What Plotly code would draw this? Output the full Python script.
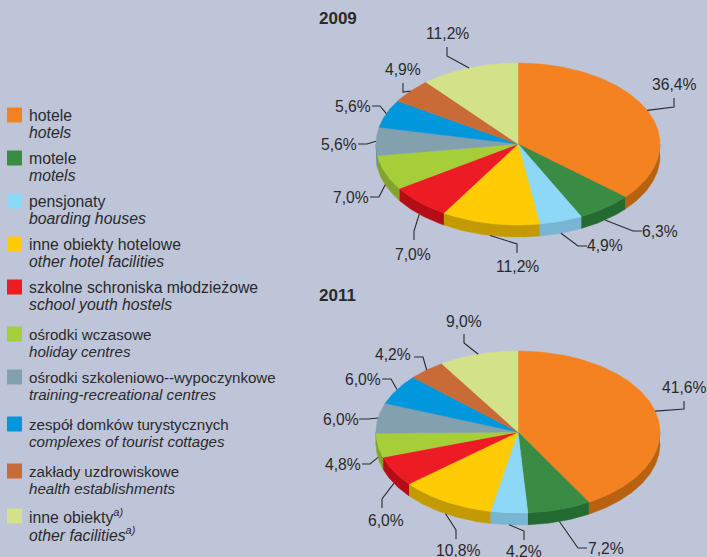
import math
import plotly.graph_objects as go

# ---------- data ----------
categories_pl = ["hotele", "motele", "pensjonaty", "inne obiekty hotelowe", "szkolne schroniska młodzieżowe",
                 "ośrodki wczasowe", "ośrodki szkoleniowo--wypoczynkowe", "zespół domków turystycznych",
                 "zakłady uzdrowiskowe", "inne obiekty<i><sup>a)</sup></i>"]
categories_en = ["hotels", "motels", "boarding houses", "other hotel facilities", "school youth hostels",
                 "holiday centres", "training-recreational centres", "complexes of tourist cottages",
                 "health establishments", "other facilities<sup>a)</sup>"]
values_2009 = [36.4, 6.3, 4.9, 11.2, 7.0, 7.0, 5.6, 5.6, 4.9, 11.2]
values_2011 = [41.6, 7.2, 4.2, 10.8, 6.0, 4.8, 6.0, 6.0, 4.2, 9.0]

# ---------- styles / layout ----------
BG = "#BEC5D8"
INK = "#2A2A2C"
TOP = ["#F58220", "#3A8B43", "#8DD7F7", "#FFCB05", "#ED1C24", "#A6CE39", "#82A0AE", "#0097DC", "#C96B36", "#D3E288"]
SIDE = ["#B8620F", "#236B30", "#77B5D2", "#C49A02", "#B50D15", "#84A32A", "#5F7F95", "#0A6FA8", "#96502A", "#A0AC68"]
FONT = "Liberation Sans"

LEGEND_Y = [115, 158, 201, 244, 287, 334, 377, 424, 471, 516]
LEGEND_SIZE = [15.8, 15.8, 15.8, 15.8, 15.8, 15.1, 15.1, 15.1, 15.1, 15.8]
ROW_GAP = 17.7

RX, RY, DEPTH = 142, 81, 12
PIES = [
    dict(year="2009", values=values_2009, cx=518, cy=144, title=(338, 18),
         labels=[(674, 84), (660, 231), (605, 245), (517, 266), (413, 254),
                 (351, 197), (339, 144), (353, 106), (403, 69), (447, 33)],
         elbows=[[(674, 107), (674, 98)], [(633, 231), (642, 231)], [(578, 246), (587, 246)],
                 [(517, 244), (517, 253)], [(414, 231), (414, 240)], [(379, 197), (370, 197)],
                 [(367, 144), (358, 144)], [(380, 106), (372, 106)], [(403, 92), (403, 83)],
                 [(447, 56), (447, 47)]]),
    dict(year="2011", values=values_2011, cx=518, cy=432, title=(337, 295),
         labels=[(684, 387), (606, 548), (524, 551), (458, 550), (386, 520),
                 (343, 464), (341, 419), (363, 379), (393, 354), (464, 321)],
         elbows=[[(684, 409), (684, 401)], [(578, 548), (587, 548)], [(524, 531), (524, 540)],
                 [(456, 530), (456, 539)], [(382, 499), (382, 508)], [(370, 464), (362, 464)],
                 [(368, 419), (359, 419)], [(391, 379), (382, 379)], [(423, 357), (414, 357)],
                 [(464, 343), (464, 334)]]),
]


def rim(cx, cy, deg, drop=0):
    t = math.radians(deg)
    return cx + RX * math.sin(t), cy - RY * math.cos(t) + drop


def arc(cx, cy, a, b, drop=0):
    n = max(2, int(abs(b - a)) + 2)
    return [rim(cx, cy, a + (b - a) * i / (n - 1), drop) for i in range(n)]


fig = go.Figure()


def poly(pts, color):
    fig.add_trace(go.Scatter(x=[p[0] for p in pts], y=[p[1] for p in pts], mode="lines", fill="toself",
                             fillcolor=color, line=dict(color=color, width=0.5), hoverinfo="skip", showlegend=False))


annotations = []


def text(x, y, s, size=15, anchor="center"):
    annotations.append(dict(x=x, y=y, text=s, xref="x", yref="y", showarrow=False, xanchor=anchor, yanchor="middle",
                            font=dict(family=FONT, size=size, color=INK)))


for pie in PIES:
    vals, cx, cy = pie["values"], pie["cx"], pie["cy"]
    total = sum(vals)
    angle, spans = 0.0, []
    for v in vals:
        spans.append((angle, angle + v / total * 360))
        angle += v / total * 360
    # side wall (front half only), then top face
    for i, (a, b) in enumerate(spans):
        lo, hi = max(a, 90), min(b, 270)
        if hi > lo:
            upper = arc(cx, cy, lo, hi)
            lower = arc(cx, cy, hi, lo, DEPTH)
            poly(upper + lower, SIDE[i])
    for i, (a, b) in enumerate(spans):
        poly([(cx, cy)] + arc(cx, cy, a, b) + [(cx, cy)], TOP[i])
    # leaders and value labels
    for i, (a, b) in enumerate(spans):
        mid = (a + b) / 2
        start = rim(cx, cy, mid, DEPTH if 90 < mid < 270 else 0)
        pts = [start] + pie["elbows"][i]
        fig.add_trace(go.Scatter(x=[p[0] for p in pts], y=[p[1] for p in pts], mode="lines",
                                 line=dict(color=INK, width=1.1), hoverinfo="skip", showlegend=False))
        text(*pie["labels"][i], f"{vals[i]:.1f}%".replace(".", ","), 15.7)
    text(*pie["title"], f"<b>{pie['year']}</b>", 17)

# legend
fig.add_trace(go.Scatter(x=[14.5] * len(TOP), y=LEGEND_Y, mode="markers",
                         marker=dict(symbol="square", size=15, color=TOP, line=dict(width=0)),
                         hoverinfo="skip", showlegend=False))
for y, size, pl, en in zip(LEGEND_Y, LEGEND_SIZE, categories_pl, categories_en):
    text(27, y, pl, size, "left")
    text(27, y + ROW_GAP, f"<i>{en}</i>", size, "left")

fig.update_layout(width=707, height=557, margin=dict(l=0, r=0, t=0, b=0), paper_bgcolor=BG, plot_bgcolor=BG,
                  showlegend=False, annotations=annotations,
                  xaxis=dict(range=[0, 707], visible=False, fixedrange=True),
                  yaxis=dict(range=[557, 0], visible=False, fixedrange=True))
fig.write_html("out.html", config=dict(displayModeBar=False),
               post_script="document.body.style.margin='0';document.body.style.background='#BEC5D8';")
